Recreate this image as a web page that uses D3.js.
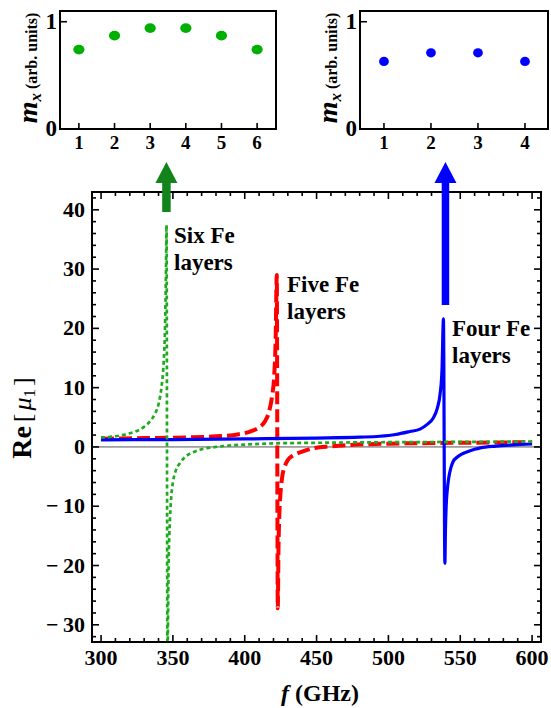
<!DOCTYPE html>
<html><head><meta charset="utf-8">
<script src="https://cdn.jsdelivr.net/npm/d3@7"></script>
<style>body{margin:0;background:#fff} svg{display:block} text{font-family:"Liberation Serif","Times New Roman","DejaVu Serif",serif;font-weight:bold}</style>
</head><body><svg id="c" width="551" height="708"></svg>
<script>
// ---------- data ----------
// Re[mu1] vs f (GHz)
const sixLayersF   = [300,310,320,325,330,335,338,340,342,343.5,344.5,345.2,345.6,346.2,347,348,349,350,352,355,360,365,370,380,390,400,420,450,500,550,600];
const sixLayersRe  = [1.6,1.8,2.3,2.7,3.4,4.6,5.8,7.2,10,14,20,30,37.4,-36,-20,-12,-8,-6,-4,-2.7,-1.4,-0.8,-0.4,0.0,0.25,0.4,0.6,0.7,0.8,0.85,0.9];
const fiveLayersF  = [300,330,360,380,395,405,410,414,417,419,420.5,421.5,422.3,423.0,423.5,424,425,426,428,430,434,440,448,460,471,500,550,600];
const fiveLayersRe = [1.4,1.5,1.6,1.8,2.1,2.7,3.3,4.3,6,8.5,12,18,29,-27.2,-17,-12,-7.5,-5.2,-3.2,-2.2,-1.4,-0.8,-0.2,0.1,0.3,0.55,0.7,0.8];
const fourLayersF  = [300,350,400,450,480,494,505,515,522,527,531,534,536,537.3,538.3,539.3,539.7,540.2,541,542,543.5,545,548,551,555,560,564,575,587,600];
const fourLayersRe = [1.2,1.25,1.35,1.5,1.65,1.8,2.1,2.6,3.0,3.8,4.8,6.5,9,13,21.6,-19.6,-14,-10,-7.2,-5.2,-3.5,-2.5,-1.7,-1.2,-0.8,-0.4,-0.15,0.15,0.35,0.5];
// insets: m_x per layer
const sixLayerIdx = [1,2,3,4,5,6];
const sixMx       = [0.74,0.87,0.94,0.94,0.87,0.74];
const fourLayerIdx = [1,2,3,4];
const fourMx       = [0.63,0.71,0.71,0.63];
// ticks
const xTicks = [300,350,400,450,500,550,600];
const yTicks = [-30,-20,-10,0,10,20,30,40];
const insetYTicks = [0,1];
// resonance positions marked by arrows
const sixRes = 345.5, fourRes = 539.7;

// ---------- drawing ----------
const svg = d3.select("#c");
const L=92,R=541,T=192,B=642;
const x = d3.scaleLinear([293.7,606.2],[L,R]);
const y = d3.scaleLinear([-32.9,43.0],[B,T]);

svg.append("defs").append("clipPath").attr("id","clip")
  .append("rect").attr("x",L).attr("y",T).attr("width",R-L).attr("height",B-T);

// zero line
svg.append("line").attr("x1",L).attr("x2",R).attr("y1",y(0)).attr("y2",y(0))
  .attr("stroke","#555").attr("stroke-width",1);

const line = d3.line().x(d=>x(d[0])).y(d=>y(d[1])).curve(d3.curveMonotoneX);
const zip=(a,b)=>a.map((v,i)=>[v,b[i]]);
const g = svg.append("g").attr("clip-path","url(#clip)");
g.append("path").attr("d",line(zip(fiveLayersF,fiveLayersRe))).attr("fill","none")
  .attr("stroke","#ff0000").attr("stroke-width",4).attr("stroke-dasharray","13,5");
g.append("path").attr("d",line(zip(fourLayersF,fourLayersRe))).attr("fill","none")
  .attr("stroke","#0000ff").attr("stroke-width",3.2);
g.append("path").attr("d",line(zip(sixLayersF,sixLayersRe))).attr("fill","none")
  .attr("stroke","#1faa1f").attr("stroke-width",2.7).attr("stroke-dasharray","4,3");

// frame
svg.append("rect").attr("x",L).attr("y",T).attr("width",R-L).attr("height",B-T)
  .attr("fill","none").attr("stroke","#000").attr("stroke-width",2);

// ticks
const tk = svg.append("g").attr("stroke","#000").attr("stroke-width",1.6);
d3.range(300,601,10).forEach(v=>{
  const len = xTicks.includes(v)?7:4;
  tk.append("line").attr("x1",x(v)).attr("x2",x(v)).attr("y1",B).attr("y2",B-len);
  tk.append("line").attr("x1",x(v)).attr("x2",x(v)).attr("y1",T).attr("y2",T+len);
});
d3.range(-32,43,2).forEach(v=>{
  const len = yTicks.includes(v)?7:4;
  tk.append("line").attr("x1",L).attr("x2",L+len).attr("y1",y(v)).attr("y2",y(v));
  tk.append("line").attr("x1",R).attr("x2",R-len).attr("y1",y(v)).attr("y2",y(v));
});
xTicks.forEach(v=>svg.append("text").attr("x",x(v)).attr("y",665).attr("text-anchor","middle")
  .attr("font-size",22).text(v));
yTicks.forEach(v=>svg.append("text").attr("x",85).attr("y",y(v)+7).attr("text-anchor","end")
  .attr("font-size",22).text(v<0?"\u2212"+"\u2009"+Math.abs(v):v));

// axis labels
const xl = svg.append("text").attr("x",320).attr("y",701).attr("text-anchor","middle").attr("font-size",24);
xl.append("tspan").attr("font-style","italic").text("f");
xl.append("tspan").text(" (GHz)");
const yl = svg.append("text").attr("transform","translate(31,418) rotate(-90)").attr("text-anchor","middle");
yl.append("tspan").attr("font-size",28).text("Re");
yl.append("tspan").attr("font-size",26).attr("font-weight","normal").attr("dx",4).text("[");
yl.append("tspan").attr("font-size",26).attr("font-weight","normal").attr("font-style","italic").attr("dx",3).text("\u03bc");
yl.append("tspan").attr("font-size",17).attr("font-weight","normal").attr("dy",4).text("1");
yl.append("tspan").attr("font-size",26).attr("font-weight","normal").attr("dy",-4).attr("dx",3).text("]");

// curve labels
function lbl(x0,y0,lines){
  lines.forEach((t,i)=>svg.append("text").attr("x",x0).attr("y",y0+i*27).attr("font-size",23).text(t));
}
lbl(174,243,["Six Fe","layers"]);
lbl(287,292,["Five Fe","layers"]);
lbl(452,336,["Four Fe","layers"]);

// arrows
function arrow(cx,yBottom,col,shaftW){
  svg.append("rect").attr("x",cx-shaftW/2).attr("y",182).attr("width",shaftW).attr("height",yBottom-182).attr("fill",col);
  svg.append("path").attr("d",`M${cx-11},183 L${cx+11},183 L${cx},162 Z`).attr("fill",col);
}
arrow(x(sixRes),212,"#13841b",8.5);
arrow(x(fourRes),305,"#0000ff",7.5);

// insets
function inset(x0,x1,dom,idx,vals,col,rx,ry,labX){
  const ix = d3.scaleLinear(dom,[x0,x1]);
  const iy = d3.scaleLinear([0,1.1],[129,11]);
  idx.forEach((k,i)=>svg.append("ellipse").attr("cx",ix(k)).attr("cy",iy(vals[i])).attr("rx",rx).attr("ry",ry).attr("fill",col));
  svg.append("rect").attr("x",x0).attr("y",11).attr("width",x1-x0).attr("height",118)
    .attr("fill","none").attr("stroke","#000").attr("stroke-width",2);
  idx.forEach(k=>{
    svg.append("line").attr("x1",ix(k)).attr("x2",ix(k)).attr("y1",129).attr("y2",123).attr("stroke","#000").attr("stroke-width",1.6);
    svg.append("text").attr("x",ix(k)).attr("y",149).attr("text-anchor","middle").attr("font-size",19).text(k);
  });
  insetYTicks.forEach(v=>{
    svg.append("line").attr("x1",x0).attr("x2",x0+7).attr("y1",iy(v)).attr("y2",iy(v)).attr("stroke","#000").attr("stroke-width",1.6);
    svg.append("text").attr("x",x0-3).attr("y",iy(v)+7).attr("text-anchor","end").attr("font-size",23).text(v);
  });
  const t = svg.append("text").attr("transform",`translate(${labX},68) rotate(-90)`).attr("text-anchor","middle");
  t.append("tspan").attr("font-size",28).attr("font-style","italic").text("m");
  t.append("tspan").attr("font-size",17).attr("font-style","italic").attr("dy",4).text("x");
  t.append("tspan").attr("font-size",16).attr("dy",-4).text(" (arb. units)");
}
inset(60,276,[0.47,6.53],sixLayerIdx,sixMx,"#00b000",5.6,4.8,37);
inset(360,548,[0.49,4.49],fourLayerIdx,fourMx,"#0000ff",4.9,4.6,337);
</script></body></html>
